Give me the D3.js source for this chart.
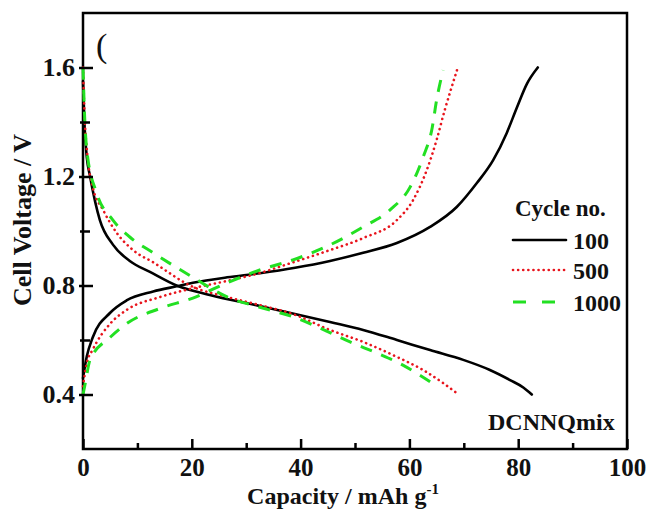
<!DOCTYPE html>
<html>
<head>
<meta charset="utf-8">
<script src="https://cdn.jsdelivr.net/npm/d3@7"></script>
<style>
  body { margin: 0; background: #fff; }
  svg { display: block; }
  text { font-family: "Liberation Serif", "Times New Roman", serif; font-weight: bold; fill: #111; }
</style>
</head>
<body>
<svg width="647" height="511"></svg>
<script>
// cycle 100
var cap100Dis = [0, 0.3, 0.7, 1.3, 3.1, 5.5, 8.6, 12.3, 17.2, 23.3, 32.5, 45.4, 51.5, 57.7, 63.8, 69.9, 74.8, 78.5, 81, 82.5];
var volt100Dis = [1.55, 1.38, 1.27, 1.2, 1.04, 0.95, 0.89, 0.85, 0.80, 0.765, 0.725, 0.666, 0.637, 0.60, 0.563, 0.527, 0.49, 0.453, 0.425, 0.40];
var cap100Chg = [0, 0.7, 1.8, 5, 8, 12.9, 17.2, 20.2, 26.5, 32.5, 39, 45.4, 51.5, 57.7, 63.8, 68.7, 72.4, 75.4, 77.9, 79.8, 81.6, 83.6];
var volt100Chg = [0.46, 0.54, 0.61, 0.70, 0.745, 0.778, 0.797, 0.81, 0.83, 0.845, 0.865, 0.89, 0.92, 0.956, 1.015, 1.088, 1.176, 1.26, 1.36, 1.455, 1.54, 1.60];

// cycle 500
var cap500Dis = [0, 0.3, 0.8, 1.8, 3.7, 6.2, 9.2, 12.9, 20.2, 26.5, 32.5, 38.6, 45.4, 51.5, 57.7, 62.5, 66.2, 68.7];
var volt500Dis = [1.6, 1.42, 1.28, 1.16, 1.077, 0.993, 0.93, 0.885, 0.795, 0.758, 0.728, 0.695, 0.637, 0.593, 0.538, 0.49, 0.442, 0.405];
var cap500Chg = [0, 0.7, 1.8, 5, 8, 14.2, 20.2, 26.5, 32.5, 38.6, 45.4, 51.5, 57.7, 60.7, 63.2, 65, 66.5, 67.8, 68.9];
var volt500Chg = [0.43, 0.515, 0.565, 0.66, 0.71, 0.758, 0.79, 0.817, 0.846, 0.885, 0.93, 0.974, 1.04, 1.114, 1.224, 1.334, 1.444, 1.53, 1.60];

// cycle 1000
var cap1000Dis = [0, 0.3, 0.8, 2.5, 5.5, 8.6, 12.9, 20.2, 26.5, 32.5, 38.6, 44, 49.1, 54, 58.8, 62, 64.7];
var volt1000Dis = [1.6, 1.42, 1.28, 1.14, 1.04, 0.978, 0.92, 0.83, 0.758, 0.72, 0.685, 0.64, 0.593, 0.552, 0.508, 0.47, 0.435];
var cap1000Chg = [0, 0.4, 1.3, 5, 8, 14.2, 20.2, 26.5, 32.5, 38.6, 45.4, 51.5, 56.4, 60.1, 62.5, 64.2, 65, 66.2];
var volt1000Chg = [0.40, 0.44, 0.527, 0.61, 0.66, 0.716, 0.754, 0.81, 0.857, 0.894, 0.949, 1.015, 1.077, 1.16, 1.27, 1.38, 1.48, 1.59];

var cycleNames = ["100", "500", "1000"];
var xMajor = [0, 20, 40, 60, 80, 100];
var xMinor = [10, 30, 50, 70, 90];
var yMajor = [0.4, 0.8, 1.2, 1.6];
var yMinor = [0.6, 1.0, 1.4];

var svg = d3.select("svg"),
    margin = {top: 13, right: 20, bottom: 62, left: 83},
    width = +svg.attr("width") - margin.left - margin.right,
    height = +svg.attr("height") - margin.top - margin.bottom,
    g = svg.append("g").attr("transform", "translate(" + margin.left + "," + margin.top + ")");

var x = d3.scaleLinear().domain([0, 100]).range([0, width]);
var y = d3.scaleLinear().domain([0.2, 1.8]).range([height, 0]);

var line = d3.line()
  .x(function(d) { return x(d[0]); })
  .y(function(d) { return y(d[1]); })
  .curve(d3.curveMonotoneX);

function pairs(c, v) { return c.map(function(d, i) { return [d, v[i]]; }); }

var styles = [
  {color: "#000", width: 2.6, dash: null, cap: "round"},
  {color: "#e8141c", width: 2.6, dash: "0.1,5", cap: "round"},
  {color: "#22e022", width: 3, dash: "12,10", cap: "butt"}
];

var curves = [
  {s: 0, data: pairs(cap100Dis, volt100Dis)},
  {s: 0, data: pairs(cap100Chg, volt100Chg)},
  {s: 1, data: pairs(cap500Dis, volt500Dis)},
  {s: 1, data: pairs(cap500Chg, volt500Chg)},
  {s: 2, data: pairs(cap1000Dis, volt1000Dis)},
  {s: 2, data: pairs(cap1000Chg, volt1000Chg)}
];

// frame
g.append("rect")
  .attr("width", width).attr("height", height)
  .attr("fill", "none").attr("stroke", "#000").attr("stroke-width", 2.5);

// curves
curves.forEach(function(c) {
  var st = styles[c.s];
  g.append("path")
    .datum(c.data)
    .attr("fill", "none")
    .attr("stroke", st.color)
    .attr("stroke-width", st.width)
    .attr("stroke-linecap", st.cap)
    .attr("stroke-dasharray", st.dash)
    .attr("d", line);
});

// axes
var xAxis = g.append("g")
  .attr("transform", "translate(0," + height + ")")
  .call(d3.axisBottom(x).tickValues(xMajor).tickSizeInner(-10).tickSizeOuter(0).tickPadding(9));
var xAxisMinor = g.append("g")
  .attr("transform", "translate(0," + height + ")")
  .call(d3.axisBottom(x).tickValues(xMinor).tickSizeInner(-6).tickSizeOuter(0).tickFormat(""));
var yAxis = g.append("g")
  .call(d3.axisLeft(y).tickValues(yMajor).tickSizeInner(-10).tickSizeOuter(0).tickPadding(8).tickFormat(d3.format(".1f")));
var yAxisMinor = g.append("g")
  .call(d3.axisLeft(y).tickValues(yMinor).tickSizeInner(-7).tickSizeOuter(0).tickFormat(""));

[xAxis, xAxisMinor, yAxis, yAxisMinor].forEach(function(a) {
  a.select(".domain").remove();
  a.selectAll(".tick line").attr("stroke", "#000").attr("stroke-width", 2.5);
  a.selectAll("text").attr("font-family", null).style("font-size", "26px").attr("fill", "#111");
});
xAxis.selectAll("text").style("font-size", "25px");
yAxis.selectAll(".tick line").attr("x1", -4);
yAxisMinor.selectAll(".tick line").attr("x1", -3);

// axis titles
svg.append("text")
  .attr("x", 343).attr("y", 504)
  .attr("text-anchor", "middle")
  .style("font-size", "24px")
  .text("Capacity / mAh g")
  .append("tspan")
    .attr("dy", -10)
    .style("font-size", "15px")
    .text("-1");

svg.append("text")
  .attr("transform", "translate(31,220) rotate(-90)")
  .attr("text-anchor", "middle")
  .style("font-size", "26px")
  .text("Cell Voltage / V");

// panel mark
svg.append("text")
  .attr("x", 96).attr("y", 57)
  .style("font-size", "34px")
  .style("font-weight", "normal")
  .text("(");

// legend
var legend = svg.append("g");
legend.append("text")
  .attr("x", 515).attr("y", 216)
  .style("font-size", "23px")
  .text("Cycle no.");

var legY = [240, 270, 302];
cycleNames.forEach(function(name, i) {
  var st = styles[i];
  legend.append("line")
    .attr("x1", 513).attr("x2", 566)
    .attr("y1", legY[i]).attr("y2", legY[i])
    .attr("stroke", st.color)
    .attr("stroke-width", st.width)
    .attr("stroke-linecap", st.cap)
    .attr("stroke-dasharray", i == 2 ? "13,16" : st.dash);
  legend.append("text")
    .attr("x", 573).attr("y", legY[i] + 9)
    .style("font-size", "24px")
    .text(name);
});

svg.append("text")
  .attr("x", 488).attr("y", 430)
  .style("font-size", "24px")
  .text("DCNNQmix");
</script>
</body>
</html>
